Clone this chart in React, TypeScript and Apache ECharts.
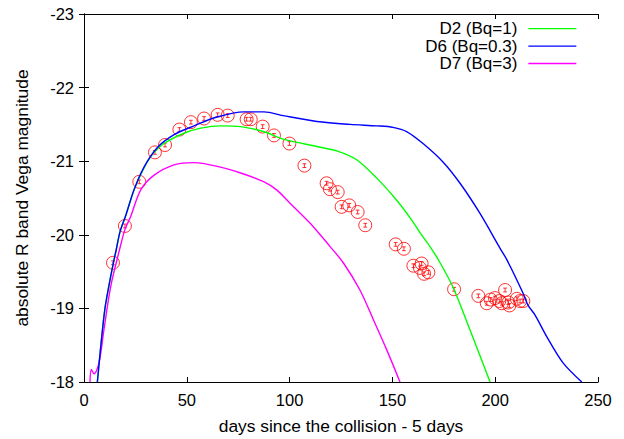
import React, { useEffect, useRef } from "react";
import * as echarts from "echarts";

// Observations: days since collision - 5 days, absolute R magnitude
const obsDays = [14.1, 19.9, 26.9, 34.5, 39.4, 46.4, 52.0, 58.4, 65.0, 69.9, 79.1, 81.1, 86.9, 92.4, 99.9, 107.2, 118.0, 119.6, 123.4, 125.3, 129.0, 133.1, 136.8, 151.6, 155.6, 160.2, 164.2, 163.4, 165.4, 167.5, 180.0, 191.8, 195.9, 197.8, 199.9, 202.0, 203.2, 204.8, 206.9, 206.4, 210.5, 212.1, 213.7];
const obsMag = [-19.62, -20.12, -20.72, -21.12, -21.22, -21.43, -21.53, -21.58, -21.63, -21.62, -21.57, -21.57, -21.47, -21.35, -21.24, -20.94, -20.70, -20.62, -20.58, -20.38, -20.40, -20.31, -20.13, -19.87, -19.81, -19.58, -19.61, -19.55, -19.47, -19.49, -19.26, -19.17, -19.07, -19.12, -19.14, -19.10, -19.07, -19.25, -19.04, -19.08, -19.13, -19.10, -19.10];

// Model D2 (Bq=1)
const d2Days = [6.5, 8.0, 10.1, 12.2, 14.3, 15.7, 17.5, 20.4, 24.3, 29.2, 33.5, 38.9, 48.6, 56.8, 66.5, 76.2, 87.6, 96.9, 113.2, 122.9, 132.6, 142.4, 152.1, 159.4, 163.4, 168.3, 173.2, 179.6, 187.7, 197.5];
const d2Mag = [-18.0, -18.44, -18.98, -19.32, -19.62, -19.80, -20.04, -20.27, -20.61, -20.91, -21.10, -21.24, -21.38, -21.45, -21.48, -21.47, -21.40, -21.30, -21.20, -21.14, -21.02, -20.77, -20.47, -20.20, -20.03, -19.84, -19.62, -19.28, -18.71, -18.0];

// Model D6 (Bq=0.3)
const d6Days = [6.5, 8.0, 10.1, 12.2, 14.3, 15.7, 17.5, 20.4, 24.3, 29.2, 35.5, 43.8, 53.5, 64.7, 77.8, 87.6, 96.8, 113.3, 129.4, 142.5, 150.3, 157.1, 164.9, 174.6, 182.9, 192.6, 202.3, 205.7, 213.5, 216.0, 219.4, 225.2, 233.0, 242.1];
const d6Mag = [-18.0, -18.44, -18.98, -19.32, -19.62, -19.80, -20.04, -20.27, -20.61, -20.92, -21.18, -21.36, -21.48, -21.60, -21.67, -21.67, -21.62, -21.54, -21.50, -21.48, -21.46, -21.40, -21.24, -20.99, -20.70, -20.29, -19.82, -19.66, -19.21, -19.04, -18.91, -18.61, -18.26, -18.0];

// Model D7 (Bq=3)
const d7Days = [2.9, 3.55, 4.9, 7.3, 9.7, 13.0, 17.3, 19.9, 22.7, 27.6, 34.1, 43.8, 53.5, 64.8, 76.2, 87.6, 93.7, 100.2, 109.9, 119.7, 126.1, 134.2, 140.7, 147.2, 153.7];
const d7Mag = [-18.0, -18.17, -18.11, -18.26, -18.71, -19.30, -19.80, -20.07, -20.25, -20.61, -20.81, -20.95, -20.98, -20.93, -20.84, -20.72, -20.61, -20.43, -20.16, -19.84, -19.62, -19.25, -18.85, -18.44, -18.0];

const seriesNames = ["D2 (Bq=1)", "D6 (Bq=0.3)", "D7 (Bq=3)"];
const xTitle = "days since the collision - 5 days";
const yTitle = "absolute R band Vega magnitude";

const zip = (a: number[], b: number[]) => a.map((v, i) => [v, b[i]]);

const FONT = "'Liberation Sans', Arial, sans-serif";
const symbolPath =
  "path://M0,12A12,12,0,1,1,24,12A12,12,0,1,1,0,12Z M8.5,8.5L15.5,8.5 M12,8.5L12,15.5 M8.5,15.5L15.5,15.5";

export default function App() {
  const ref = useRef<HTMLDivElement>(null);
  useEffect(() => {
    if (!ref.current) return;
    const chart = echarts.init(ref.current, null, { renderer: "svg" });
    const axisLine = { show: true, lineStyle: { color: "#000", width: 1 } };
    const tick = { show: true, inside: true, length: 5, lineStyle: { color: "#000", width: 1 } };
    chart.setOption({
      animation: false,
      backgroundColor: "#fff",
      grid: { left: 84, right: 26, top: 14, bottom: 57, containLabel: false },
      legend: {
        data: seriesNames,
        orient: "vertical",
        align: "right",
        right: 47,
        top: 20,
        padding: 0,
        itemGap: 0,
        itemWidth: 48,
        itemHeight: 14,
        itemStyle: { opacity: 0 },
        lineStyle: { width: 1.3 },
        textStyle: { fontFamily: FONT, fontSize: 17, color: "#000", lineHeight: 17.4, padding: [0, 6, 0, 0] },
      },
      xAxis: [
        {
          type: "value",
          min: 0,
          max: 250,
          interval: 50,
          name: xTitle,
          nameLocation: "middle",
          nameGap: 35,
          nameTextStyle: { fontFamily: FONT, fontSize: 17.4, color: "#000" },
          axisLine,
          axisTick: tick,
          splitLine: { show: false },
          axisLabel: { fontFamily: FONT, fontSize: 16.5, color: "#000", margin: 9 },
        },
        {
          type: "value",
          position: "top",
          min: 0,
          max: 250,
          interval: 50,
          axisLine,
          axisTick: tick,
          splitLine: { show: false },
          axisLabel: { show: false },
        },
      ],
      yAxis: [
        {
          type: "value",
          min: -23,
          max: -18,
          interval: 1,
          inverse: true,
          name: yTitle,
          nameLocation: "middle",
          nameGap: 54,
          nameTextStyle: { fontFamily: FONT, fontSize: 17.4, color: "#000" },
          axisLine,
          axisTick: tick,
          splitLine: { show: false },
          axisLabel: { fontFamily: FONT, fontSize: 16.5, color: "#000", margin: 10 },
        },
        {
          type: "value",
          position: "right",
          min: -23,
          max: -18,
          interval: 1,
          inverse: true,
          axisLine,
          axisTick: tick,
          splitLine: { show: false },
          axisLabel: { show: false },
        },
      ],
      series: [
        {
          name: "observed",
          type: "scatter",
          data: zip(obsDays, obsMag),
          symbol: symbolPath,
          symbolSize: 13,
          itemStyle: { color: "rgba(0,0,0,0)", borderColor: "#ff0000", borderWidth: 1 },
          z: 3,
        },
        {
          name: seriesNames[0],
          type: "line",
          data: zip(d2Days, d2Mag),
          symbol: "none",
          smooth: 0.3,
          lineStyle: { color: "#00ff00", width: 1.4 },
          itemStyle: { color: "#00ff00" },
          z: 4,
        },
        {
          name: seriesNames[1],
          type: "line",
          data: zip(d6Days, d6Mag),
          symbol: "none",
          smooth: 0.3,
          lineStyle: { color: "#0000ff", width: 1.4 },
          itemStyle: { color: "#0000ff" },
          z: 5,
        },
        {
          name: seriesNames[2],
          type: "line",
          data: zip(d7Days, d7Mag),
          symbol: "none",
          smooth: 0.3,
          lineStyle: { color: "#ff00ff", width: 1.4 },
          itemStyle: { color: "#ff00ff" },
          z: 4,
        },
      ],
    });
    return () => chart.dispose();
  }, []);
  return <div ref={ref} style={{ width: 624, height: 439, position: "absolute", left: 0, top: 0 }} />;
}
